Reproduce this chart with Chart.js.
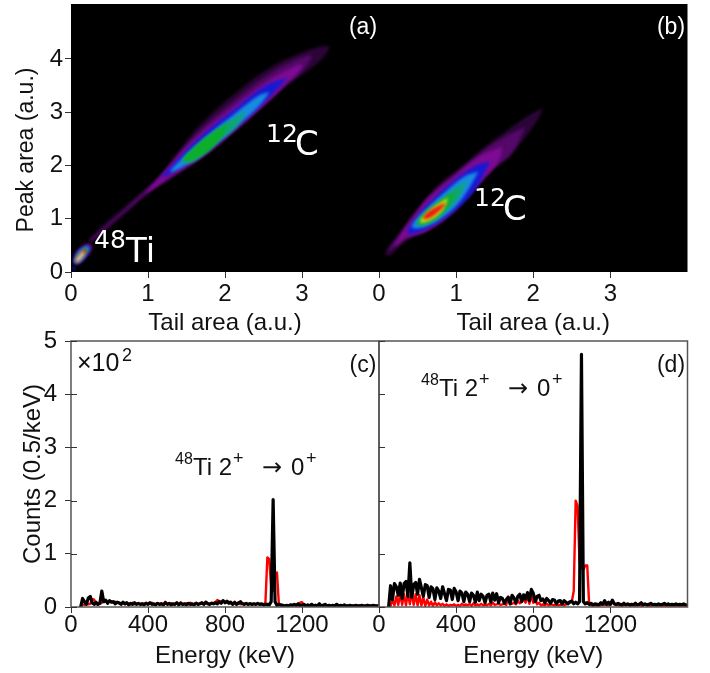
<!DOCTYPE html>
<html>
<head>
<meta charset="utf-8">
<title>Tail vs peak area and gamma spectra</title>
<script src="https://cdn.jsdelivr.net/npm/chart.js@4/dist/chart.umd.min.js"></script>
<style>
  html, body { margin: 0; padding: 0; background: #fff; }
  canvas { position: absolute; left: 0; top: 0; }
</style>
</head>
<body>
<canvas id="panelA" width="710" height="673"></canvas>
<canvas id="panelB" width="710" height="673"></canvas>
<canvas id="panelC" width="710" height="673"></canvas>
<canvas id="panelD" width="710" height="673"></canvas>
<script>
// tick labels
var areaXTicks = [0, 1, 2, 3];
var areaYTicks = [0, 1, 2, 3, 4];
var energyTicks = [0, 400, 800, 1200];
var countTicks = [0, 1, 2, 3, 4, 5];

// contour bands of panel (a), [tail, peak], outer to inner
var carbonA0 = [[.24,.62],[.42,.88],[.72,1.25],[1.16,1.82],[1.46,2.39],[1.72,2.82],[2.11,3.32],[2.54,3.79],[2.97,4.10],[3.34,4.24],[3.30,4.07],[3.06,3.76],[2.80,3.51],[2.45,3.07],[2.11,2.63],[1.76,2.20],[1.33,1.79],[1.03,1.51],[.72,1.12],[.42,.74],[.24,.55]];
var carbonA1 = [[.24,.60],[.42,.82],[.72,1.2],[1.16,1.80],[1.45,2.30],[1.7,2.7],[2.11,3.2],[2.54,3.68],[2.9,3.97],[3.12,4.07],[3.1,3.96],[2.98,3.74],[2.8,3.52],[2.45,3.08],[2.11,2.64],[1.76,2.22],[1.33,1.8],[1.03,1.52],[.72,1.15],[.42,.78],[.24,.57]];
var carbonA2 = [[.95,1.47],[1.16,1.79],[1.42,2.23],[1.68,2.60],[2.11,3.10],[2.54,3.57],[2.85,3.82],[3.0,3.9],[2.98,3.8],[2.88,3.64],[2.80,3.54],[2.54,3.17],[2.11,2.63],[1.76,2.23],[1.29,1.79],[1.03,1.53]];
var carbonA3 = [[2.82,3.65],[2.54,3.51],[2.11,3.04],[1.68,2.54],[1.42,2.17],[1.18,1.78],[1.29,1.85],[1.76,2.26],[2.11,2.67],[2.45,3.10],[2.67,3.42]];
var carbonA4 = [[2.58,3.38],[2.45,3.32],[2.11,2.95],[1.68,2.45],[1.42,2.10],[1.29,1.88],[1.46,1.98],[1.80,2.32],[2.15,2.73],[2.45,3.13]];
var carbonA5 = [[2.28,3.04],[2.02,2.79],[1.68,2.415],[1.44,2.07],[1.59,2.07],[1.89,2.415],[2.15,2.73]];
var carbonA6 = [[2.06,2.82],[1.80,2.57],[1.59,2.32],[1.46,2.10],[1.63,2.14],[1.89,2.415]];

var titanium1 = [[.03,.23],[.07,.38],[.18,.51],[.25,.52],[.27,.44],[.2,.28],[.1,.15],[.04,.15]];
var titanium2 = [[.04,.23],[.08,.37],[.18,.49],[.24,.49],[.25,.44],[.19,.29],[.1,.17],[.05,.17]];
var titanium3 = [[.05,.22],[.09,.36],[.18,.47],[.23,.47],[.23,.42],[.18,.30],[.1,.18],[.06,.18]];
var titanium4 = [[.05,.22],[.10,.35],[.18,.45],[.215,.45],[.21,.40],[.17,.29],[.1,.19],[.06,.18]];
var titanium5 = [[.06,.22],[.11,.33],[.18,.43],[.20,.43],[.19,.37],[.15,.28],[.1,.2],[.07,.19]];
var titanium6 = [[.06,.22],[.11,.32],[.165,.39],[.17,.34],[.13,.25],[.09,.2],[.07,.2]];
var originSpot = [[.01,.05],[.03,.09],[.06,.07],[.04,.04]];

// contour bands of panel (b)
var carbonB0 = [[2.11,3.07],[1.92,2.92],[1.61,2.60],[1.35,2.32],[1.10,2.01],[.75,1.60],[.45,1.10],[.27,.73],[.08,.35],[.14,.31],[.36,.60],[.62,.79],[.92,1.10],[1.22,1.54],[1.48,1.95],[1.79,2.35],[2.0,2.73],[2.11,3.01]];
var carbonB1 = [[1.9,2.72],[1.61,2.52],[1.35,2.27],[1.10,1.97],[.75,1.56],[.45,1.06],[.27,.70],[.12,.40],[.36,.62],[.62,.78],[.92,1.09],[1.22,1.53],[1.48,1.93],[1.72,2.22]];
var carbonB2 = [[1.6,2.35],[1.45,2.27],[1.27,2.14],[.97,1.79],[.66,1.415],[.42,.98],[.25,.63],[.20,.48],[.36,.65],[.62,.77],[.92,1.07],[1.18,1.48],[1.44,1.88],[1.56,2.1]];
var carbonB3 = [[1.44,2.07],[1.27,2.01],[1.01,1.76],[.71,1.38],[.49,1.04],[.37,.73],[.53,.76],[.79,.95],[1.05,1.23],[1.27,1.60]];
var carbonB4 = [[1.29,1.88],[1.12,1.80],[.88,1.53],[.64,1.22],[.47,.97],[.43,.83],[.60,.85],[.84,1.04],[1.07,1.36]];
var carbonB5 = [[1.15,1.72],[.92,1.50],[.71,1.26],[.52,1.0],[.49,.88],[.64,.90],[.86,1.12],[1.03,1.38]];
var carbonB6 = [[1.02,1.55],[.80,1.33],[.62,1.13],[.52,.97],[.52,.90],[.66,.95],[.84,1.14]];
var carbonB7 = [[.90,1.40],[.71,1.22],[.56,1.02],[.54,.93],[.66,.97],[.82,1.15]];
var carbonB8 = [[.85,1.3],[.64,1.13],[.57,1.0],[.63,1.0],[.72,1.07],[.85,1.25]];

// spectra, energy in keV and counts in units of 10^2
var energies = [
  50,60,70,80,90,100,110,120,130,140,
  150,160,170,180,190,200,210,220,230,240,
  250,260,270,280,290,300,310,320,330,340,
  350,360,370,380,390,400,410,420,430,440,
  450,460,470,480,490,500,510,520,530,540,
  550,560,570,580,590,600,610,620,630,640,
  650,660,670,680,690,700,710,720,730,740,
  750,760,770,780,790,800,810,820,830,840,
  850,860,870,880,890,900,910,920,930,940,
  950,960,970,980,990,1000,1010,1020,1030,1040,
  1050,1060,1070,1080,1090,1100,1110,1120,1130,1140,
  1150,1160,1170,1180,1190,1200,1210,1220,1230,1240,
  1250,1260,1270,1280,1290,1300,1310,1320,1330,1340,
  1350,1360,1370,1380,1390,1400,1410,1420,1430,1440,
  1450,1460,1470,1480,1490,1500,1510,1520,1530,1540,
  1550,1560,1570,1580,1590,1600
];
var blackC = [
  0,.16,.10,.05,.17,.20,.08,.05,.09,.05,
  .07,.30,.10,.13,.07,.12,.09,.10,.06,.09,
  .08,.05,.09,.06,.08,.04,.07,.05,.08,.05,
  .07,.05,.06,.04,.07,.05,.08,.05,.06,.04,
  .07,.05,.06,.04,.08,.05,.07,.04,.06,.05,
  .08,.04,.07,.05,.06,.04,.07,.05,.06,.04,
  .07,.05,.06,.08,.05,.09,.06,.05,.07,.06,
  .08,.06,.10,.07,.12,.08,.11,.07,.09,.05,
  .09,.05,.07,.10,.06,.05,.07,.05,.06,.05,
  .06,.05,.07,.05,.06,.04,.05,.05,.04,.10,
  2.02,.10,.03,.05,.04,.03,.02,.03,.02,.04,
  .03,.05,.03,.06,.02,.03,.05,.02,.04,.02,
  .05,.02,.03,.02,.06,.02,.03,.05,.02,.03,
  .02,.03,.02,.05,.02,.03,.02,.04,.02,.02,
  .03,.02,.02,.03,.02,.02,.03,.02,.02,.03,
  .02,.02,.03,.02,.02,.02
];
var redC = [
  0,.05,.04,.08,.05,.06,.15,.14,.05,.07,
  .06,.08,.10,.11,.09,.10,.11,.09,.10,.08,
  .07,.06,.09,.05,.07,.06,.05,.08,.05,.06,
  .06,.05,.07,.06,.08,.05,.06,.08,.05,.06,
  .06,.05,.07,.05,.10,.06,.05,.07,.06,.05,
  .07,.05,.09,.05,.06,.07,.05,.08,.05,.06,
  .08,.05,.07,.06,.05,.10,.07,.06,.08,.07,
  .09,.13,.11,.10,.12,.09,.08,.10,.07,.06,
  .08,.06,.09,.05,.07,.06,.06,.05,.07,.05,
  .06,.05,.06,.05,.06,.05,.08,.93,.90,.35,
  .30,.62,.65,.04,.02,.03,.02,.03,.03,.04,
  .04,.03,.05,.03,.08,.09,.03,.02,.03,.02,
  .03,.02,.04,.02,.03,.02,.04,.02,.03,.02,
  .02,.03,.02,.04,.02,.02,.03,.02,.02,.03,
  .02,.02,.03,.02,.02,.03,.02,.02,.02,.04,
  .03,.02,.02,.03,.02,.02
];
var blackD = [
  0,.40,.14,.44,.38,.22,.45,.16,.44,.48,
  .20,.83,.18,.42,.46,.24,.52,.36,.20,.42,
  .40,.18,.38,.34,.14,.36,.30,.16,.38,.25,
  .12,.33,.32,.14,.35,.28,.12,.30,.26,.10,
  .28,.24,.10,.26,.22,.09,.28,.12,.24,.20,
  .08,.22,.24,.09,.26,.13,.25,.08,.18,.16,
  .07,.14,.18,.06,.22,.17,.08,.20,.24,.10,
  .23,.15,.27,.12,.33,.26,.10,.20,.22,.12,
  .15,.08,.16,.12,.07,.14,.13,.06,.11,.12,
  .06,.12,.09,.06,.10,.11,.06,.09,.06,.10,
  4.75,.10,.06,.08,.05,.07,.04,.06,.05,.04,
  .08,.05,.12,.05,.09,.05,.13,.06,.05,.07,
  .05,.04,.07,.04,.06,.04,.05,.04,.07,.04,
  .05,.08,.04,.06,.04,.05,.07,.04,.05,.04,
  .06,.04,.05,.07,.04,.06,.04,.05,.04,.06,
  .04,.05,.04,.06,.04,.03
];
var redD = [
  0,.02,.14,.03,.20,.04,.25,.04,.24,.03,
  .26,.05,.27,.04,.24,.03,.22,.03,.18,.02,
  .14,.03,.10,.02,.09,.03,.07,.03,.06,.02,
  .05,.02,.04,.03,.05,.02,.04,.02,.06,.03,
  .05,.03,.06,.02,.07,.03,.05,.03,.06,.03,
  .05,.03,.06,.03,.08,.04,.05,.06,.04,.05,
  .06,.04,.20,.05,.06,.08,.05,.12,.07,.10,
  .14,.08,.20,.06,.22,.08,.18,.05,.08,.03,
  .05,.03,.06,.03,.05,.04,.03,.05,.03,.04,
  .05,.03,.05,.06,.08,.10,.30,2.0,1.90,.85,
  .75,.70,.78,.78,.05,.03,.02,.03,.02,.03,
  .03,.05,.04,.06,.03,.04,.10,.05,.04,.03,
  .03,.02,.04,.03,.05,.02,.03,.04,.02,.03,
  .04,.02,.03,.05,.02,.03,.02,.04,.03,.02,
  .03,.02,.03,.02,.04,.02,.03,.02,.03,.02,
  .03,.02,.03,.02,.02,.02
];

var sansFont = '"Liberation Sans", Arial, sans-serif';
var mathFont = '"DejaVu Sans", sans-serif';
Chart.defaults.font.family = sansFont;
Chart.defaults.font.size = 24;
Chart.defaults.color = '#111';
Chart.defaults.animation = false;

function bandDataset(points, color) {
  return {
    data: points.concat([points[0]]).map(function (p) { return { x: p[0], y: p[1] }; }),
    showLine: true,
    fill: 'shape',
    tension: 0.4,
    borderWidth: 0,
    borderColor: color,
    backgroundColor: color,
    pointRadius: 0
  };
}

function lineDataset(values, color, width) {
  return {
    data: energies.map(function (e, i) { return { x: e, y: values[i] }; }),
    showLine: true,
    borderColor: color,
    borderWidth: width,
    borderJoinStyle: 'round',
    pointRadius: 0,
    tension: 0
  };
}

// bands are given outer to inner, chart.js draws the first dataset last
function stacked(bands) {
  return bands.map(function (b) { return bandDataset(b[0], b[1]); }).reverse();
}

// text inside the panels, page pixels
var panelText = {
  id: 'panelText',
  afterDraw: function (chart, args, opts) {
    var ctx = chart.ctx;
    (opts.items || []).forEach(function (it) {
      ctx.save();
      ctx.fillStyle = it.color || '#111';
      ctx.font = (it.size || 24) + 'px ' + (it.font || sansFont);
      ctx.textBaseline = 'alphabetic';
      ctx.textAlign = it.align || 'left';
      ctx.translate(it.x, it.y);
      if (it.rotate) ctx.rotate(it.rotate);
      ctx.fillText(it.text, 0, 0);
      ctx.restore();
    });
  }
};

var panelFrame = {
  id: 'panelFrame',
  beforeDatasetsDraw: function (chart, args, opts) {
    var a = chart.chartArea, ctx = chart.ctx;
    ctx.save();
    if (opts.black) {
      ctx.fillStyle = '#000';
      ctx.fillRect(a.left, a.top, a.right - a.left, a.bottom - a.top);
    }
    if (opts.blur) ctx.filter = 'blur(' + opts.blur + 'px)';
  },
  afterDatasetsDraw: function (chart, args, opts) {
    var a = chart.chartArea, ctx = chart.ctx;
    ctx.restore();
    if (opts.black) return;
    ctx.save();
    ctx.strokeStyle = '#555';
    ctx.lineWidth = 1.5;
    ctx.strokeRect(a.left, a.top, a.right - a.left, a.bottom - a.top);
    // y ticks point into the plot here
    ctx.beginPath();
    countTicks.forEach(function (v) {
      var y = Math.round(chart.scales.y.getPixelForValue(v)) + 0.5;
      ctx.moveTo(a.left, y);
      ctx.lineTo(a.left + 6, y);
    });
    ctx.strokeStyle = '#333';
    ctx.lineWidth = 1;
    ctx.stroke();
    ctx.restore();
  }
};

function makePanel(id, cfg) {
  var showY = cfg.yTitle !== undefined;
  new Chart(document.getElementById(id), {
    type: 'scatter',
    data: { datasets: cfg.datasets },
    options: {
      responsive: false,
      layout: { padding: cfg.padding },
      plugins: {
        legend: { display: false },
        tooltip: { enabled: false },
        panelText: { items: cfg.text },
        panelFrame: { black: cfg.black, blur: cfg.blur }
      },
      scales: {
        x: {
          type: 'linear',
          min: 0,
          max: cfg.xMax,
          afterBuildTicks: function (s) { s.ticks = cfg.xTicks.map(function (v) { return { value: v }; }); },
          afterFit: function (s) { s.height = cfg.xHeight; s.paddingLeft = 0; s.paddingRight = 0; },
          border: { display: false },
          grid: { drawOnChartArea: false, drawTicks: cfg.black, tickLength: 6, tickColor: '#333' },
          ticks: { autoSkip: false, maxRotation: 0, padding: cfg.black ? 2 : -2, callback: function (v) { return String(v); } },
          title: { display: true, text: cfg.xTitle, padding: 0, color: '#111' }
        },
        y: {
          display: showY,
          min: 0,
          max: cfg.yMax,
          afterBuildTicks: function (s) { s.ticks = cfg.yTicks.map(function (v) { return { value: v }; }); },
          afterFit: function (s) { s.width = showY ? 71 : 0; s.paddingTop = 0; s.paddingBottom = 0; },
          border: { display: false },
          grid: { drawOnChartArea: false, drawTicks: cfg.black, tickLength: 6, tickColor: '#333' },
          ticks: { autoSkip: false, padding: cfg.black ? 2 : 8, callback: function (v) { return String(v); } },
          title: { display: !!cfg.yTitle, text: cfg.yTitle, padding: { top: 19, bottom: 0 }, color: '#111' }
        }
      }
    },
    plugins: [panelFrame, panelText]
  });
}

var dim = 'rgb(44,5,56)', deep = 'rgb(84,8,104)', purple = 'rgb(126,10,148)', blue = 'rgb(24,24,210)', cyan = 'rgb(24,140,225)',
    teal = 'rgb(14,165,120)', green = 'rgb(12,175,40)', yellow = 'rgb(215,220,20)', red = 'rgb(235,25,20)', grey = 'rgb(205,205,205)';

makePanel('panelA', {
  padding: { left: 0, right: 331, top: 4, bottom: 335 },
  black: true,
  blur: 1.5,
  xMax: 4, yMax: 5.03, xHeight: 66,
  xTicks: areaXTicks, yTicks: areaYTicks,
  xTitle: 'Tail area (a.u.)', yTitle: '',
  datasets: stacked([
    [carbonA0, dim], [carbonA1, deep], [carbonA2, purple], [carbonA3, blue], [carbonA4, cyan], [carbonA5, teal], [carbonA6, green],
    [originSpot, blue],
    [titanium1, purple], [titanium2, blue], [titanium3, cyan], [titanium4, green], [titanium5, red], [titanium6, grey]
  ]),
  text: [
    { text: 'Peak area (a.u.)', x: 33, y: 150, size: 23, align: 'center', rotate: -Math.PI / 2 },
    { text: '(a)', x: 363, y: 34, size: 23, align: 'center', color: '#fff' },
    { text: '12', x: 266, y: 142, size: 25, font: mathFont, color: '#fff' },
    { text: 'C', x: 295, y: 155, size: 34, font: mathFont, color: '#fff' },
    { text: '48', x: 94, y: 248, size: 25, font: mathFont, color: '#fff' },
    { text: 'Ti', x: 126, y: 262, size: 34, font: mathFont, color: '#fff' }
  ]
});

makePanel('panelB', {
  padding: { left: 379, right: 22.5, top: 4, bottom: 335 },
  black: true,
  blur: 1.5,
  xMax: 4, yMax: 5.03, xHeight: 66,
  xTicks: areaXTicks, yTicks: areaYTicks,
  xTitle: 'Tail area (a.u.)',
  datasets: stacked([
    [carbonB0, dim], [carbonB1, deep], [carbonB2, purple], [carbonB3, blue], [carbonB4, cyan], [carbonB5, teal], [carbonB6, green], [carbonB7, yellow], [carbonB8, red]
  ]),
  text: [
    { text: '(b)', x: 671, y: 34, size: 23, align: 'center', color: '#fff' },
    { text: '12', x: 474, y: 206, size: 25, font: mathFont, color: '#fff' },
    { text: 'C', x: 503, y: 220, size: 34, font: mathFont, color: '#fff' }
  ]
});

makePanel('panelC', {
  padding: { left: 0, right: 331, top: 341, bottom: 2 },
  xMax: 1600, yMax: 5, xHeight: 64,
  xTicks: energyTicks, yTicks: countTicks,
  xTitle: 'Energy (keV)', yTitle: 'Counts (0.5/keV)',
  datasets: [lineDataset(blackC, '#000', 3.2), lineDataset(redC, '#f00', 2.4)],
  text: [
    { text: '×10', x: 77, y: 371, size: 25 },
    { text: '2', x: 122, y: 361, size: 18 },
    { text: '(c)', x: 363, y: 372, size: 23, align: 'center' },
    { text: '48', x: 175, y: 464, size: 16 },
    { text: 'Ti 2', x: 193, y: 475 },
    { text: '+', x: 233, y: 464, size: 18 },
    { text: '→', x: 262, y: 475, font: mathFont },
    { text: '0', x: 291, y: 475 },
    { text: '+', x: 306, y: 464, size: 18 }
  ]
});

makePanel('panelD', {
  padding: { left: 379, right: 22.5, top: 341, bottom: 2 },
  xMax: 1600, yMax: 5, xHeight: 64,
  xTicks: energyTicks, yTicks: countTicks,
  xTitle: 'Energy (keV)',
  datasets: [lineDataset(blackD, '#000', 3.2), lineDataset(redD, '#f00', 2.4)],
  text: [
    { text: '(d)', x: 671, y: 372, size: 23, align: 'center' },
    { text: '48', x: 421, y: 385, size: 16 },
    { text: 'Ti 2', x: 439, y: 396 },
    { text: '+', x: 479, y: 385, size: 18 },
    { text: '→', x: 508, y: 396, font: mathFont },
    { text: '0', x: 537, y: 396 },
    { text: '+', x: 552, y: 385, size: 18 }
  ]
});
</script>
</body>
</html>
